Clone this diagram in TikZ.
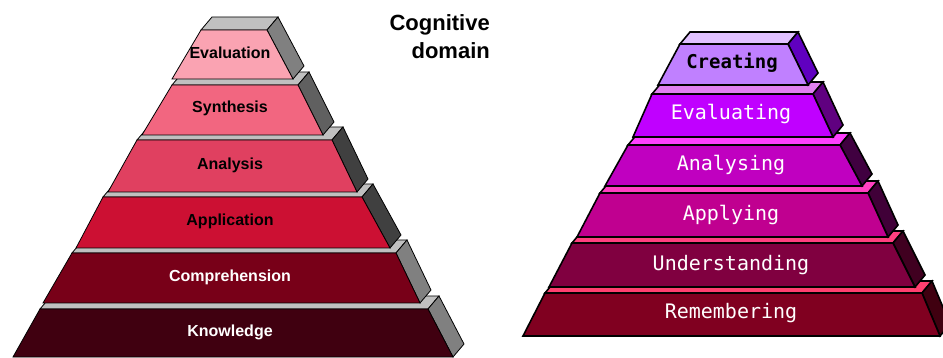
\documentclass[tikz,border=0pt]{standalone}
\usepackage{fontspec}
\setmainfont{Liberation Sans}
\newfontfamily\pixfont{DejaVu Sans Mono}
\definecolor{evalF}{RGB}{250,163,178}
\definecolor{synF}{RGB}{242,102,128}
\definecolor{anaF}{RGB}{224,64,96}
\definecolor{appF}{RGB}{204,16,51}
\definecolor{comF}{RGB}{120,0,24}
\definecolor{knoF}{RGB}{64,0,16}
\definecolor{greyT}{RGB}{192,192,192}
\definecolor{greyA}{RGB}{128,128,128}
\definecolor{greyB}{RGB}{96,96,96}
\definecolor{greyC}{RGB}{64,64,64}
\definecolor{creT}{RGB}{224,192,255}
\definecolor{creF}{RGB}{192,128,255}
\definecolor{creS}{RGB}{96,0,192}
\definecolor{evgT}{RGB}{224,128,240}
\definecolor{evgF}{RGB}{192,0,255}
\definecolor{evgS}{RGB}{96,0,128}
\definecolor{angT}{RGB}{255,64,255}
\definecolor{angF}{RGB}{192,0,192}
\definecolor{angS}{RGB}{64,0,64}
\definecolor{apgT}{RGB}{255,64,192}
\definecolor{apgF}{RGB}{192,0,144}
\definecolor{apgS}{RGB}{64,0,56}
\definecolor{ungT}{RGB}{255,64,128}
\definecolor{ungF}{RGB}{128,0,64}
\definecolor{ungS}{RGB}{64,0,32}
\definecolor{remT}{RGB}{255,64,112}
\definecolor{remF}{RGB}{128,0,32}
\definecolor{remS}{RGB}{64,0,16}
% #1 TLx #2 TRx #3 Ty #4 BLx #5 BRx #6 By #7 front #8 top #9 side
\newcommand\mytier[9]{%
  \filldraw[edge,fill=#8] (#1,#3) -- (#2,#3) -- ++(\ox,\oy) -- ($(#1,#3)+(\ox,\oy)$) -- cycle;
  \filldraw[edge,fill=#9] (#2,#3) -- ++(\ox,\oy) -- ($(#5,#6)+(\ox,\oy)$) -- (#5,#6) -- cycle;
  \filldraw[edge,fill=#7] (#1,#3) -- (#2,#3) -- (#5,#6) -- (#4,#6) -- cycle;
}
\usetikzlibrary{calc}
\begin{document}
\begin{tikzpicture}[x=1pt,y=-1pt,
  edge/.style={draw=black,line width=0.8pt,line join=miter},
  lablk/.style={font=\bfseries\fontsize{16}{17}\selectfont,text=black,inner sep=0pt},
  labwh/.style={font=\bfseries\fontsize{16}{17}\selectfont,text=white,inner sep=0pt},
  pixwh/.style={font=\pixfont\fontsize{20}{22}\selectfont,text=white,inner sep=0pt},
  pixblk/.style={font=\pixfont\bfseries\fontsize{19}{21}\selectfont,text=black,inner sep=0pt}]
\useasboundingbox (0,0) rectangle (943,358);
\clip (0,0) rectangle (943,358);
\fill[white] (0,0) rectangle (943,358);
% left pyramid
\def\ox{11}\def\oy{-13}
\mytier{40}{428}{309}{13}{453}{357}{knoF}{greyT}{greyA}
\mytier{72}{396}{253}{43}{420}{303}{comF}{greyT}{greyA}
\mytier{103}{362}{197}{76}{390}{248}{appF}{greyT}{greyC}
\mytier{137}{332}{140}{108}{357}{192}{anaF}{greyT}{greyC}
\mytier{172}{298}{85}{142}{323}{135}{synF}{greyT}{greyB}
\mytier{201}{267}{30}{172}{293}{79}{evalF}{greyT}{greyA}
\node[lablk] (eval) at (230,53) {Evaluation};
\node[lablk] (syn) at (230,108) {Synthesis};
\node[lablk] (ana) at (230,165) {Analysis};
\node[lablk] (app) at (230,221) {Application};
\node[labwh] (com) at (230,277) {Comprehension};
\node[labwh] (kno) at (230,332) {Knowledge};
\node[font=\bfseries\fontsize{22}{28}\selectfont,align=right,anchor=north east,inner sep=0pt] (title) at (490,14) {Cognitive\\domain};
% right pyramid
\def\ox{10}\def\oy{-12}
\tikzset{edge/.style={draw=black,line width=1.6pt,line join=miter}}
\mytier{545}{922}{293}{523}{940}{336}{remF}{remT}{remS}
\mytier{572}{893}{243}{549}{915}{287}{ungF}{ungT}{ungS}
\mytier{600}{868}{193}{577}{888}{237}{apgF}{apgT}{apgS}
\mytier{628}{840}{145}{605}{862}{186}{angF}{angT}{angS}
\mytier{652}{813}{94}{633}{833}{137}{evgF}{evgT}{evgS}
\mytier{680}{788}{44}{658}{808}{85}{creF}{creT}{creS}
\node[pixblk] (cre) at (732,63) {Creating};
\node[pixwh] (evg) at (731,114) {Evaluating};
\node[pixwh] (ang) at (731,165) {Analysing};
\node[pixwh] (apg) at (731,215) {Applying};
\node[pixwh] (ung) at (731,265) {Understanding};
\node[pixwh] (rem) at (731,313) {Remembering};
\end{tikzpicture}
\end{document}
